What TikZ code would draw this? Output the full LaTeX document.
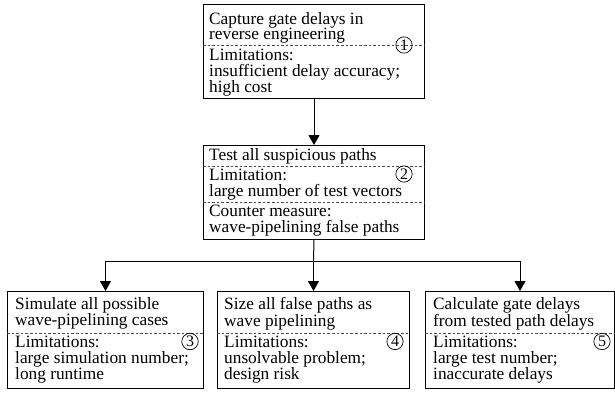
\documentclass[tikz,border=0pt]{standalone}
\usepackage{fontspec}
\setmainfont{Liberation Serif}
\usetikzlibrary{arrows.meta}
\begin{document}
\begin{tikzpicture}[x=1pt,y=-1pt,
  box/.style={draw, line width=1pt, inner sep=0pt, anchor=north west},
  txt/.style={font=\fontsize{17.3}{15.6}\selectfont, align=left, anchor=north west, inner sep=0pt},
  sep/.style={line width=0.6pt, black!70, dash pattern=on 2.6pt off 2pt},
  num/.style={circle, draw, line width=0.7pt, inner sep=1.1pt, font=\fontsize{16}{16}\selectfont},
  wire/.style={line width=1pt},
  flow/.style={line width=1pt, -{Triangle[width=11pt,length=10pt]}}
]
\useasboundingbox (0,0) rectangle (615,393);

% upper chain
\node[box, minimum width=221pt, minimum height=94pt] (b1) at (203,4) {};
\node[box, minimum width=221pt, minimum height=94pt] (b2) at (203,145) {};

\draw[sep] (b1.west |- 0,45) -- (b1.east |- 0,45);
\node[txt] (t1a) at (209,12) {Capture gate delays in\\reverse engineering};
\node[txt] (t1b) at (209,49) {Limitations:\\insufficient delay accuracy;\\high cost};
\node[num] (n1) at (404,45) {1};

\draw[sep] (b2.west |- 0,166) -- (b2.east |- 0,166);
\draw[sep] (b2.west |- 0,202) -- (b2.east |- 0,202);
\node[txt] (t2a) at (209,148) {Test all suspicious paths};
\node[txt] (t2b) at (209,169) {Limitation:\\large number of test vectors};
\node[txt] (t2c) at (209,205) {Counter measure:\\wave-pipelining false paths};
\node[num] (n2) at (404,174) {2};

% three alternatives
\node[box, minimum width=196pt, minimum height=97pt] (b3) at (7,291) {};
\node[box, minimum width=192pt, minimum height=97pt] (b4) at (217,291) {};
\node[box, minimum width=189pt, minimum height=97pt] (b5) at (425,291) {};

\draw[sep] (b3.west |- 0,333) -- (b3.east |- 0,333);
\draw[sep] (b4.west |- 0,333) -- (b4.east |- 0,333);
\draw[sep] (b5.west |- 0,333) -- (b5.east |- 0,333);

\node[txt] (t3a) at (15,297) {Simulate all possible\\wave-pipelining cases};
\node[txt] (t3b) at (15,336) {Limitations:\\large simulation number;\\long runtime};
\node[num] (n3) at (190,341.5) {3};

\node[txt] (t4a) at (224,297) {Size all false paths as\\wave pipelining};
\node[txt] (t4b) at (224,336) {Limitations:\\unsolvable problem;\\design risk};
\node[num] (n4) at (395,341.5) {4};

\node[txt] (t5a) at (433,297) {Calculate gate delays\\from tested path delays};
\node[txt] (t5b) at (433,336) {Limitations:\\large test number;\\inaccurate delays};
\node[num] (n5) at (602,341.5) {5};

% connectors
\draw[flow] (b1.south) -- (b2.north);
\coordinate (bus) at (313.5,261);
\draw[wire] (b2.south) -- (bus);
\draw[flow] (bus) -| (b3.north);
\draw[flow] (bus) -| (b5.north);
\draw[flow] (bus) -- (bus |- b4.north);
\end{tikzpicture}
\end{document}
